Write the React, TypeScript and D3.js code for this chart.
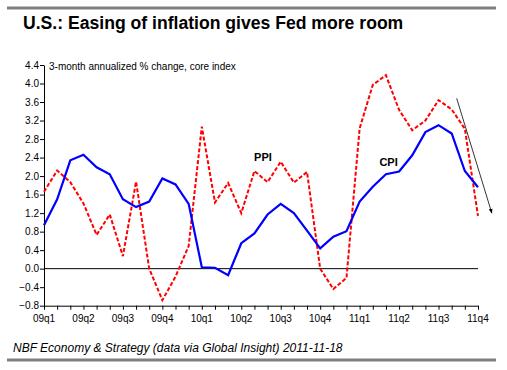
import React, { useEffect, useRef } from 'react';
import * as d3 from 'd3';

// monthly, Jan 2009 .. Oct 2011
const cpi = [0.94, 1.5, 2.34, 2.46, 2.19, 2.04, 1.5, 1.33, 1.45, 1.95, 1.82, 1.4,
  0.03, 0.02, -0.14, 0.55, 0.76, 1.17, 1.4, 1.2, 0.82, 0.44, 0.69, 0.81,
  1.45, 1.77, 2.04, 2.1, 2.45, 2.95, 3.1, 2.92, 2.11, 1.76];
const ppi = [1.66, 2.12, 1.87, 1.41, 0.73, 1.17, 0.27, 1.88, 0.0, -0.68, -0.17, 0.49,
  3.07, 1.43, 1.85, 1.2, 2.11, 1.87, 2.31, 1.86, 2.09, 0.0, -0.44, -0.2,
  3.03, 3.97, 4.18, 3.43, 2.99, 3.2, 3.64, 3.44, 3.02, 1.14];
const quarters = ['09q1', '09q2', '09q3', '09q4', '10q1', '10q2', '10q3', '10q4', '11q1', '11q2', '11q3', '11q4'];
const yTicks = [-0.8, -0.4, 0.0, 0.4, 0.8, 1.2, 1.6, 2.0, 2.4, 2.8, 3.2, 3.6, 4.0, 4.4];

const App = () => {
  const ref = useRef<SVGSVGElement>(null);

  useEffect(() => {
    const svg = d3.select(ref.current);
    svg.selectAll('*').remove();

    const left = 44, right = 478, top = 65, bottom = 305.7;
    const x = d3.scaleLinear().domain([0, cpi.length - 1]).range([left, right]);
    const y = d3.scaleLinear().domain([-0.8, 4.4]).range([bottom, top]);

    // frame rules
    svg.append('line').attr('x1', 7).attr('x2', 496).attr('y1', 8).attr('y2', 8)
      .attr('stroke', '#808080').attr('stroke-width', 3);
    svg.append('line').attr('x1', 7).attr('x2', 496).attr('y1', 360).attr('y2', 360)
      .attr('stroke', '#808080').attr('stroke-width', 3);

    svg.append('text').attr('x', 23).attr('y', 29)
      .attr('font-family', 'Liberation Sans, Arial, sans-serif').attr('font-weight', 'bold')
      .attr('font-size', 17.6).attr('fill', '#000')
      .text('U.S.: Easing of inflation gives Fed more room');

    svg.append('text').attr('x', 13).attr('y', 352)
      .attr('font-family', 'Liberation Sans, Arial, sans-serif').attr('font-style', 'italic')
      .attr('font-size', 12).attr('fill', '#000')
      .text('NBF Economy & Strategy (data via Global Insight) 2011-11-18');

    // y axis
    const yAxis = svg.append('g').attr('transform', `translate(${left},0)`)
      .call(d3.axisLeft(y).tickValues(yTicks).tickFormat(d3.format('.1f')).tickSize(4).tickSizeOuter(0));
    yAxis.selectAll('text').attr('font-family', 'Liberation Sans, Arial, sans-serif')
      .attr('font-size', 10).attr('fill', '#000').attr('dx', 2);
    yAxis.selectAll('line, path').attr('stroke', '#000');

    // x axis with monthly ticks
    const months = d3.range(cpi.length);
    const xAxis = svg.append('g').attr('transform', `translate(0,${bottom})`)
      .call(d3.axisBottom(x).tickValues(months).tickFormat(() => '').tickSize(4).tickSizeOuter(0));
    xAxis.selectAll('line, path').attr('stroke', '#000');
    svg.append('g').selectAll('text').data(quarters).enter().append('text')
      .attr('x', (_d, i) => x(i * 3)).attr('y', bottom + 16)
      .attr('text-anchor', 'middle')
      .attr('font-family', 'Liberation Sans, Arial, sans-serif').attr('font-size', 10).attr('fill', '#000')
      .text(d => d);

    // zero line
    svg.append('line').attr('x1', left).attr('x2', right).attr('y1', y(0)).attr('y2', y(0))
      .attr('stroke', '#000').attr('stroke-width', 1);

    svg.append('text').attr('x', 49).attr('y', 70)
      .attr('font-family', 'Liberation Sans Narrow, Arial Narrow, Liberation Sans, sans-serif')
      .attr('font-size', 10).attr('fill', '#000')
      .text('3-month annualized % change, core index');

    const line = d3.line<number>().x((_d, i) => x(i)).y(d => y(d));

    svg.append('path').datum(ppi).attr('d', line).attr('fill', 'none')
      .attr('stroke', '#ff0000').attr('stroke-width', 2).attr('stroke-dasharray', '4,2');
    svg.append('path').datum(cpi).attr('d', line).attr('fill', 'none')
      .attr('stroke', '#0000ff').attr('stroke-width', 2.2);

    svg.append('text').attr('x', x(16.65)).attr('y', y(2.41) + 4).attr('text-anchor', 'middle')
      .attr('font-family', 'Liberation Sans Narrow, Arial Narrow, Liberation Sans, sans-serif')
      .attr('font-size', 11).attr('font-weight', 'bold').attr('fill', '#000').text('PPI');
    svg.append('text').attr('x', x(26.2)).attr('y', y(2.31) + 4).attr('text-anchor', 'middle')
      .attr('font-family', 'Liberation Sans Narrow, Arial Narrow, Liberation Sans, sans-serif')
      .attr('font-size', 11).attr('font-weight', 'bold').attr('fill', '#000').text('CPI');

    // trend arrow
    svg.append('defs').append('marker').attr('id', 'arr').attr('viewBox', '0 0 10 10')
      .attr('refX', 9).attr('refY', 5).attr('markerWidth', 6).attr('markerHeight', 6)
      .attr('orient', 'auto')
      .append('path').attr('d', 'M0,1 L10,5 L0,9 Z').attr('fill', '#000');
    svg.append('line').attr('x1', x(31.38)).attr('y1', y(3.68)).attr('x2', x(34.05)).attr('y2', y(1.2))
      .attr('stroke', '#000').attr('stroke-width', 0.8).attr('marker-end', 'url(#arr)');
  }, []);

  return (
    <div style={{ position: 'fixed', left: 0, top: 0, background: '#fff' }}>
      <svg ref={ref} width={507} height={370}></svg>
    </div>
  );
};

export default App;
